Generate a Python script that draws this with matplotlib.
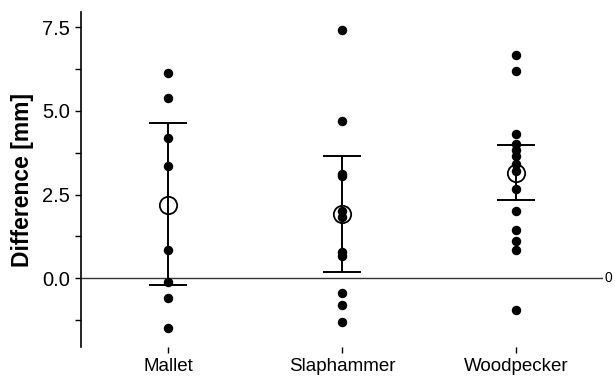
import numpy as np
import matplotlib.pyplot as plt
from matplotlib.ticker import MultipleLocator

plt.rcParams['font.family'] = ['Liberation Sans', 'DejaVu Sans']

# groups and individual differences (mm)
groups = ['Mallet', 'Slaphammer', 'Woodpecker']
mallet = [6.14, 5.38, 4.19, 3.34, 0.84, -0.10, -0.60, -1.49]
slaphammer = [7.42, 4.70, 3.13, 3.06, 2.01, 1.82, 0.79, 0.66, -0.45, -0.80, -1.29]
woodpecker = [6.68, 6.18, 4.32, 4.00, 3.82, 3.65, 3.42, 3.20, 2.68, 2.00, 1.44, 1.12, 0.86, -0.94]

# mean and error bar ends
means = [2.18, 1.91, 3.16]
upper = [4.64, 3.64, 3.99]
lower = [-0.20, 0.20, 2.35]

fig = plt.figure(figsize=(6.15, 3.76), dpi=100)
ax = fig.add_axes([0.132, 0.077, 0.848, 0.891])

x = np.arange(1, len(groups) + 1)
for xi, vals in zip(x, [mallet, slaphammer, woodpecker]):
    ax.plot([xi] * len(vals), vals, 'o', color='black', markersize=5.8, zorder=3)

means = np.array(means)
yerr = [means - np.array(lower), np.array(upper) - means]
ax.errorbar(x, means, yerr=yerr, fmt='none', ecolor='black', elinewidth=1.4,
            capsize=14, capthick=1.4, zorder=2)
ax.plot(x, means, 'o', markersize=12.5, markerfacecolor='none',
        markeredgecolor='black', markeredgewidth=1.3, zorder=4)

ax.axhline(0, color='#333333', linewidth=1.0, zorder=1)
ax.text(1.004, 0, '0', transform=ax.get_yaxis_transform(), va='center', ha='left',
        fontsize=10, clip_on=False)

ax.set_xlim(0.5, 3.5)
ax.set_ylim(-2.05, 7.95)
ax.set_xticks(x)
ax.set_xticklabels(groups, fontsize=13.5)
ax.yaxis.set_major_locator(MultipleLocator(2.5))
ax.yaxis.set_minor_locator(MultipleLocator(1.25))
ax.set_yticks([0, 2.5, 5, 7.5])
ax.set_yticklabels(['0.0', '2.5', '5.0', '7.5'], fontsize=14.5)
ax.tick_params(axis='y', which='both', direction='out', length=4, width=1, pad=4)
ax.tick_params(axis='x', direction='out', length=4, width=1, pad=4)

for s in ['top', 'right', 'bottom']:
    ax.spines[s].set_visible(False)
ax.spines['left'].set_linewidth(1.2)

ax.set_ylabel('Difference [mm]', fontsize=16.5, fontweight='bold', labelpad=6)

fig.savefig('out.png', dpi=100)
